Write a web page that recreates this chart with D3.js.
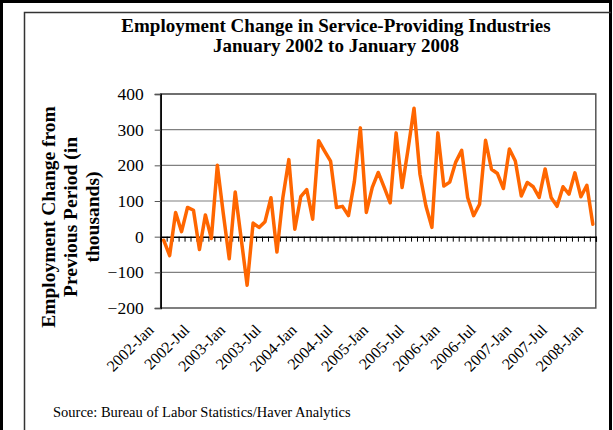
<!DOCTYPE html>
<html>
<head>
<meta charset="utf-8">
<script src="https://cdn.jsdelivr.net/npm/d3@7"></script>
<style>
  body { margin: 0; background: #fff; }
  svg { display: block; }
  text { font-family: "Liberation Serif", "Times New Roman", serif; fill: #000; }
</style>
</head>
<body>
<svg id="chart" width="613" height="430"></svg>
<script>
// Monthly periods, January 2002 through January 2008
const years = [2002, 2003, 2004, 2005, 2006, 2007, 2008];
const monthNames = ["Jan", "Feb", "Mar", "Apr", "May", "Jun", "Jul", "Aug", "Sep", "Oct", "Nov", "Dec"];
const periods = [];
years.forEach(yr => monthNames.forEach(m => { if (yr < 2008 || m === "Jan") periods.push(yr + "-" + m); }));

// Month-over-month change in service-providing employment (thousands)
const changes = [
  -10, -53, 68, 14, 82, 74, -36, 61, -5, 200, 65, -62,
  125, -5, -136, 38, 26, 42, 109, -43, 110, 216, 21, 112,
  132, 49, 269, 240, 212, 82, 85, 59, 155, 305, 68, 138,
  180, 138, 95, 291, 138, 245, 360, 175, 86, 26, 291, 142,
  153, 209, 242, 110, 59, 91, 270, 189, 177, 135, 246, 212,
  114, 152, 140, 110, 190, 110, 85, 140, 119, 179, 112, 144,
  35
];

// Labelled periods on the category axis
const tickLabels = ["2002-Jan", "2002-Jul", "2003-Jan", "2003-Jul", "2004-Jan", "2004-Jul",
  "2005-Jan", "2005-Jul", "2006-Jan", "2006-Jul", "2007-Jan", "2007-Jul", "2008-Jan"];
const yTicks = [-200, -100, 0, 100, 200, 300, 400];

const titleLines = ["Employment Change in Service-Providing Industries", "January 2002 to January 2008"];
const yTitleLines = ["Employment Change from", "Previous Period (in", "thousands)"];
const sourceNote = "Source: Bureau of Labor Statistics/Haver Analytics";

const svg = d3.select("#chart");
const plot = { left: 160.7, right: 595.8, top: 94, bottom: 308 };

// Outer page frame and chart frame
svg.append("rect").attr("x", 1.5).attr("y", 1.5).attr("width", 609).attr("height", 440)
  .attr("fill", "none").attr("stroke", "#000").attr("stroke-width", 3);
svg.append("path").attr("d", "M24.5,440V12.5H611")
  .attr("fill", "none").attr("stroke", "#333").attr("stroke-width", 1.5);

const x = d3.scaleBand().domain(periods).range([plot.left, plot.right]).padding(0);
const xc = p => x(p) + x.bandwidth() / 2;
const y = d3.scaleLinear().domain([-200, 400]).range([plot.bottom, plot.top]);

// Horizontal gridlines
svg.append("g").selectAll("line").data(yTicks.filter(v => v !== 0 && v !== -200)).join("line")
  .attr("x1", plot.left).attr("x2", plot.right)
  .attr("y1", d => y(d)).attr("y2", d => y(d))
  .attr("stroke", "#808080").attr("stroke-width", 1.2);

// Plot area border
svg.append("rect").attr("x", plot.left).attr("y", plot.top)
  .attr("width", plot.right - plot.left).attr("height", plot.bottom - plot.top)
  .attr("fill", "none").attr("stroke", "#555").attr("stroke-width", 1.5);

// Value axis
const yAxis = svg.append("g").attr("transform", `translate(${plot.left},0)`)
  .call(d3.axisLeft(y).tickValues(yTicks).tickSize(6).tickPadding(11).tickFormat(d3.format("d")));
yAxis.select(".domain").attr("stroke", "#000").attr("stroke-width", 1.5);
yAxis.selectAll(".tick line").attr("stroke", "#555");
yAxis.selectAll("text").attr("font-size", 17.5).attr("font-family", "Liberation Serif");

// Category axis along zero, tick marks between months
const idx = d3.scaleLinear().domain([0, periods.length]).range([plot.left, plot.right]);
const xAxis = svg.append("g").attr("transform", `translate(0,${y(0)})`)
  .call(d3.axisBottom(idx).tickValues(d3.range(0, periods.length + 1)).tickSize(5).tickFormat(""));
xAxis.select(".domain").attr("stroke", "#000").attr("stroke-width", 1.5);
xAxis.selectAll(".tick line").attr("stroke", "#000").attr("stroke-width", 1);

// Rotated period labels below the plot
svg.append("g").selectAll("text").data(tickLabels).join("text")
  .attr("transform", d => `translate(${xc(d) - 9},${plot.bottom + 23}) rotate(-45)`)
  .attr("text-anchor", "end")
  .attr("font-size", 16)
  .text(d => d);

// Series line
const line = d3.line().x((d, i) => xc(periods[i])).y(d => y(d));
svg.append("path").datum(changes)
  .attr("d", line)
  .attr("fill", "none").attr("stroke", "#FF6600").attr("stroke-width", 3.5)
  .attr("stroke-linejoin", "round").attr("stroke-linecap", "round");

// Chart title
svg.append("g").selectAll("text").data(titleLines).join("text")
  .attr("x", 336).attr("y", (d, i) => 31.5 + i * 20)
  .attr("text-anchor", "middle").attr("font-weight", "bold").attr("font-size", 19)
  .text(d => d);

// Value axis title
svg.append("g").attr("transform", "translate(0,217)").selectAll("text").data(yTitleLines).join("text")
  .attr("transform", (d, i) => `translate(${55 + i * 22},0) rotate(-90)`)
  .attr("text-anchor", "middle").attr("font-weight", "bold").attr("font-size", 19.5)
  .text(d => d);

// Source note
svg.append("text").attr("x", 53).attr("y", 417).attr("font-size", 14.5).text(sourceNote);
</script>
</body>
</html>
